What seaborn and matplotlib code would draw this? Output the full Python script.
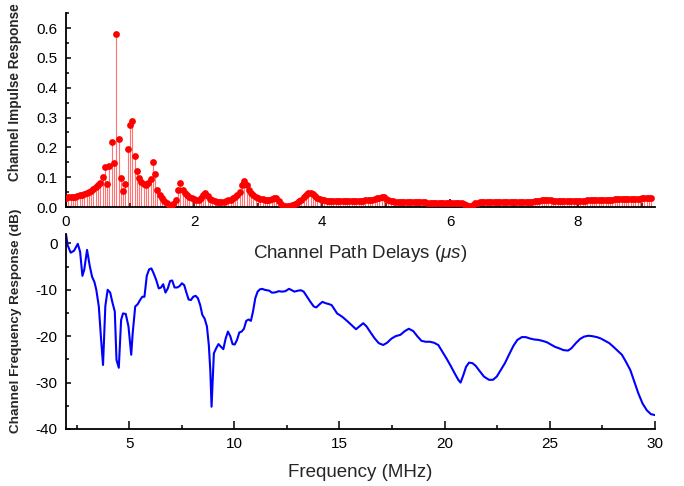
import numpy as np
import pandas as pd
import matplotlib
matplotlib.use('Agg')
import matplotlib.pyplot as plt
from matplotlib.ticker import MultipleLocator, FormatStrFormatter
import seaborn as sns

# channel impulse response, one sample every 1/28 us (28 MHz band)
impulse = [
    0.031, 0.032, 0.033, 0.034, 0.035, 0.037, 0.039, 0.041, 0.044, 0.047, 0.051, 0.055, 0.060, 0.066, 0.073, 0.082,
    0.100, 0.133, 0.077, 0.139, 0.218, 0.148, 0.581, 0.228, 0.096, 0.053, 0.076, 0.194, 0.276, 0.289,
    0.171, 0.122, 0.098, 0.085, 0.076, 0.074, 0.079, 0.094, 0.152, 0.110, 0.057, 0.039, 0.029,
    0.021, 0.014, 0.008, 0.003, 0.010, 0.022,
    0.058, 0.082, 0.058, 0.046, 0.039, 0.034, 0.030, 0.027, 0.025, 0.024,
    0.030, 0.040, 0.048, 0.036,
    0.028, 0.023, 0.020, 0.018, 0.017, 0.017, 0.018, 0.020, 0.022, 0.025, 0.029, 0.033, 0.040, 0.049, 0.074, 0.088, 0.073, 0.057,
    0.047, 0.040, 0.035, 0.031, 0.028, 0.026, 0.025, 0.025, 0.025, 0.027, 0.031, 0.030,
    0.020, 0.010, 0.004, 0.002, 0.002, 0.003, 0.006, 0.010,
    0.014, 0.019, 0.025, 0.032, 0.040, 0.046, 0.048, 0.044, 0.037, 0.031, 0.027, 0.024, 0.022, 0.021, 0.020,
    0.020, 0.020, 0.019, 0.019, 0.019, 0.019, 0.019, 0.019, 0.019, 0.019, 0.019, 0.019, 0.020, 0.020, 0.021, 0.022, 0.023,
    0.024, 0.025, 0.027, 0.029, 0.031, 0.033, 0.032, 0.028, 0.024, 0.021, 0.019, 0.018, 0.017,
    0.017, 0.016, 0.016, 0.016, 0.016, 0.016, 0.016, 0.016, 0.016,
    0.016, 0.016, 0.016, 0.015, 0.015, 0.015, 0.015, 0.015, 0.015,
    0.015, 0.015, 0.015, 0.015, 0.015, 0.014, 0.014, 0.014, 0.014,
    0.013, 0.010, 0.007, 0.005, 0.005, 0.008, 0.012, 0.015,
    0.016, 0.016, 0.016, 0.016, 0.016, 0.016, 0.016, 0.016, 0.016, 0.016,
    0.016, 0.016, 0.016, 0.016, 0.016, 0.016, 0.017, 0.017, 0.017, 0.017,
    0.017, 0.017, 0.017,
    0.018, 0.019, 0.020, 0.021, 0.022, 0.023, 0.023, 0.023, 0.022, 0.021, 0.020, 0.019,
    0.019, 0.019, 0.019, 0.019, 0.019, 0.020, 0.020, 0.020, 0.020, 0.021, 0.021, 0.021, 0.022, 0.022, 0.023,
    0.023, 0.023, 0.024, 0.024, 0.024, 0.025, 0.025, 0.025, 0.025, 0.026,
    0.026, 0.026, 0.026, 0.027, 0.027, 0.027, 0.027, 0.028, 0.028, 0.028,
    0.028, 0.029, 0.029, 0.029, 0.030, 0.031,
]
sample_rate_mhz = 28.0

# channel frequency response
freq_mhz = [
    2.00, 2.08, 2.22, 2.38, 2.56, 2.67, 2.78, 2.87, 3.00, 3.13, 3.24, 3.35, 3.44, 3.56, 3.67, 3.76,
    3.87, 3.98, 4.10, 4.20, 4.32, 4.40, 4.51, 4.62, 4.71, 4.84, 4.97, 5.10, 5.17, 5.29, 5.41, 5.52,
    5.63, 5.73, 5.84, 5.95, 6.06, 6.17, 6.29, 6.41, 6.52, 6.62, 6.73, 6.84, 6.95, 7.05, 7.16, 7.29,
    7.40, 7.51, 7.62, 7.71, 7.83, 7.94, 8.05, 8.16, 8.27, 8.38, 8.48, 8.59, 8.70, 8.79, 8.86, 8.92,
    8.98, 9.03, 9.14, 9.25, 9.37, 9.48, 9.59, 9.70, 9.81, 9.92, 10.02, 10.13, 10.24, 10.35, 10.46, 10.57,
    10.68, 10.79, 10.89, 11.00, 11.11, 11.22, 11.33, 11.44, 11.56, 11.67, 11.78, 11.89, 12.00, 12.11, 12.27, 12.43,
    12.60, 12.70, 12.86, 13.02, 13.17, 13.30, 13.46, 13.62, 13.78, 13.90, 14.06, 14.19, 14.35, 14.51, 14.63, 14.79,
    14.89, 15.13, 15.36, 15.60, 15.79, 15.97, 16.13, 16.29, 16.48, 16.68, 16.87, 17.08, 17.27, 17.48, 17.67, 17.90,
    18.11, 18.30, 18.51, 18.70, 18.90, 19.10, 19.30, 19.49, 19.70, 19.89, 20.09, 20.29, 20.49, 20.65, 20.76, 20.89,
    21.02, 21.16, 21.32, 21.48, 21.68, 21.87, 22.11, 22.30, 22.48, 22.67, 22.87, 23.06, 23.27, 23.46, 23.67, 23.86,
    24.06, 24.25, 24.46, 24.65, 24.86, 25.05, 25.25, 25.44, 25.65, 25.87, 26.03, 26.24, 26.44, 26.63, 26.84, 27.03,
    27.24, 27.43, 27.63, 27.83, 28.03, 28.22, 28.43, 28.62, 28.83, 29.02, 29.21, 29.41, 29.62, 29.81, 30.00,
]
response_db = [
    2.0, -0.4, -2.0, -1.6, -0.1, -1.8, -7.0, -5.6, -1.4, -4.9, -7.2, -8.3, -10.0, -13.6, -20.8, -26.2,
    -13.5, -10.0, -10.6, -12.6, -14.7, -25.1, -26.8, -16.5, -15.1, -15.2, -17.9, -24.0, -19.4, -13.6, -13.1, -12.2,
    -11.5, -11.5, -7.0, -5.6, -5.4, -6.5, -7.9, -9.7, -9.5, -8.8, -10.6, -9.7, -8.1, -8.0, -9.5, -9.5,
    -9.2, -8.6, -9.0, -10.4, -12.1, -12.2, -11.5, -11.3, -11.8, -13.3, -15.4, -16.2, -17.9, -21.9, -27.3, -35.2,
    -28.7, -23.7, -22.6, -21.7, -22.3, -22.8, -20.5, -19.0, -20.0, -21.7, -21.8, -20.8, -19.2, -19.0, -18.4, -16.7,
    -16.4, -16.7, -14.7, -11.8, -10.4, -9.9, -9.8, -10.0, -10.1, -10.2, -10.6, -10.6, -10.5, -10.3, -10.4, -10.3,
    -9.8, -10.0, -10.4, -10.2, -10.1, -10.4, -11.5, -12.6, -13.6, -13.8, -13.1, -12.6, -12.9, -13.1, -13.3, -14.4,
    -15.1, -15.8, -16.7, -17.7, -18.5, -17.8, -17.2, -17.9, -19.2, -20.5, -21.5, -21.9, -21.4, -20.5, -20.0, -19.7,
    -18.9, -18.4, -18.9, -20.0, -21.0, -21.2, -21.2, -21.4, -21.9, -23.3, -24.8, -26.4, -28.1, -29.4, -30.0, -28.4,
    -26.6, -25.7, -25.8, -26.4, -27.6, -28.7, -29.4, -29.4, -28.7, -27.3, -25.8, -24.0, -22.1, -20.8, -20.2, -20.2,
    -20.5, -20.7, -20.8, -21.0, -21.3, -21.8, -22.3, -22.6, -23.0, -23.1, -22.6, -21.5, -20.6, -20.1, -19.9, -20.0,
    -20.2, -20.5, -21.0, -21.5, -22.3, -23.1, -24.0, -25.5, -27.3, -29.8, -32.3, -34.5, -36.0, -36.8, -37.0,
]

sns.set_style('ticks')
plt.rcParams['font.family'] = ['Liberation Sans', 'DejaVu Sans']
plt.rcParams['mathtext.fontset'] = 'custom'
plt.rcParams['mathtext.rm'] = 'Liberation Sans'
plt.rcParams['mathtext.it'] = 'Liberation Sans:italic'
plt.rcParams['axes.unicode_minus'] = False

df_imp = pd.DataFrame({'delay': np.arange(len(impulse)) / sample_rate_mhz, 'amp': impulse})
df_freq = pd.DataFrame({'freq': freq_mhz, 'db': response_db})

fig = plt.figure(figsize=(6.84, 4.86), dpi=100)
ax2 = fig.add_axes([0.0965, 0.1173, 0.861, 0.401])
ax1 = fig.add_axes([0.0965, 0.574, 0.861, 0.399])
ax2.patch.set_alpha(0)
ax1.patch.set_alpha(0)

# stems + markers
ax1.vlines(df_imp['delay'], 0, df_imp['amp'], color='red', lw=0.8, alpha=0.55, zorder=2)
sns.scatterplot(data=df_imp, x='delay', y='amp', color='red', s=24, linewidth=0, ax=ax1, zorder=3)
ax1.set_xlim(0, 9.2)
ax1.set_ylim(0, 0.65)
ax1.xaxis.set_major_locator(MultipleLocator(2))
ax1.xaxis.set_minor_locator(MultipleLocator(1))
ax1.yaxis.set_major_locator(MultipleLocator(0.1))
ax1.yaxis.set_minor_locator(MultipleLocator(0.05))
ax1.yaxis.set_major_formatter(FormatStrFormatter('%.1f'))
ax1.set_xlabel(r'Channel Path Delays ($\mu s$)', fontsize=13.5, labelpad=10)
ax1.set_ylabel('Channel Impulse Response', fontsize=9.8, fontweight='bold')
ax1.yaxis.set_label_coords(-0.075, 0.593)

sns.lineplot(data=df_freq, x='freq', y='db', color='blue', lw=1.5, ax=ax2)
ax2.set_xlim(2, 30)
ax2.set_ylim(-40, 2)
ax2.xaxis.set_major_locator(MultipleLocator(5))
ax2.xaxis.set_minor_locator(MultipleLocator(2.5))
ax2.yaxis.set_major_locator(MultipleLocator(10))
ax2.yaxis.set_minor_locator(MultipleLocator(5))
ax2.set_xlabel('Frequency (MHz)', fontsize=13.5, labelpad=9)
ax2.set_ylabel('Channel Frequency Response (dB)', fontsize=9.7, fontweight='bold')
ax2.yaxis.set_label_coords(-0.075, 0.554)

for ax in (ax1, ax2):
    sns.despine(ax=ax)
    for s in ('left', 'bottom'):
        ax.spines[s].set_linewidth(1.3)
        ax.spines[s].set_color('black')
    ax.tick_params(axis='both', which='both', direction='in', colors='black', labelsize=11, width=1.1)
    ax.tick_params(axis='x', which='major', length=5.8, pad=6)
    ax.tick_params(axis='x', which='minor', length=2.9)
    ax.tick_params(axis='y', which='major', length=3.8, pad=6)
    ax.tick_params(axis='y', which='minor', length=2.2)

fig.savefig('out.png', dpi=100)
